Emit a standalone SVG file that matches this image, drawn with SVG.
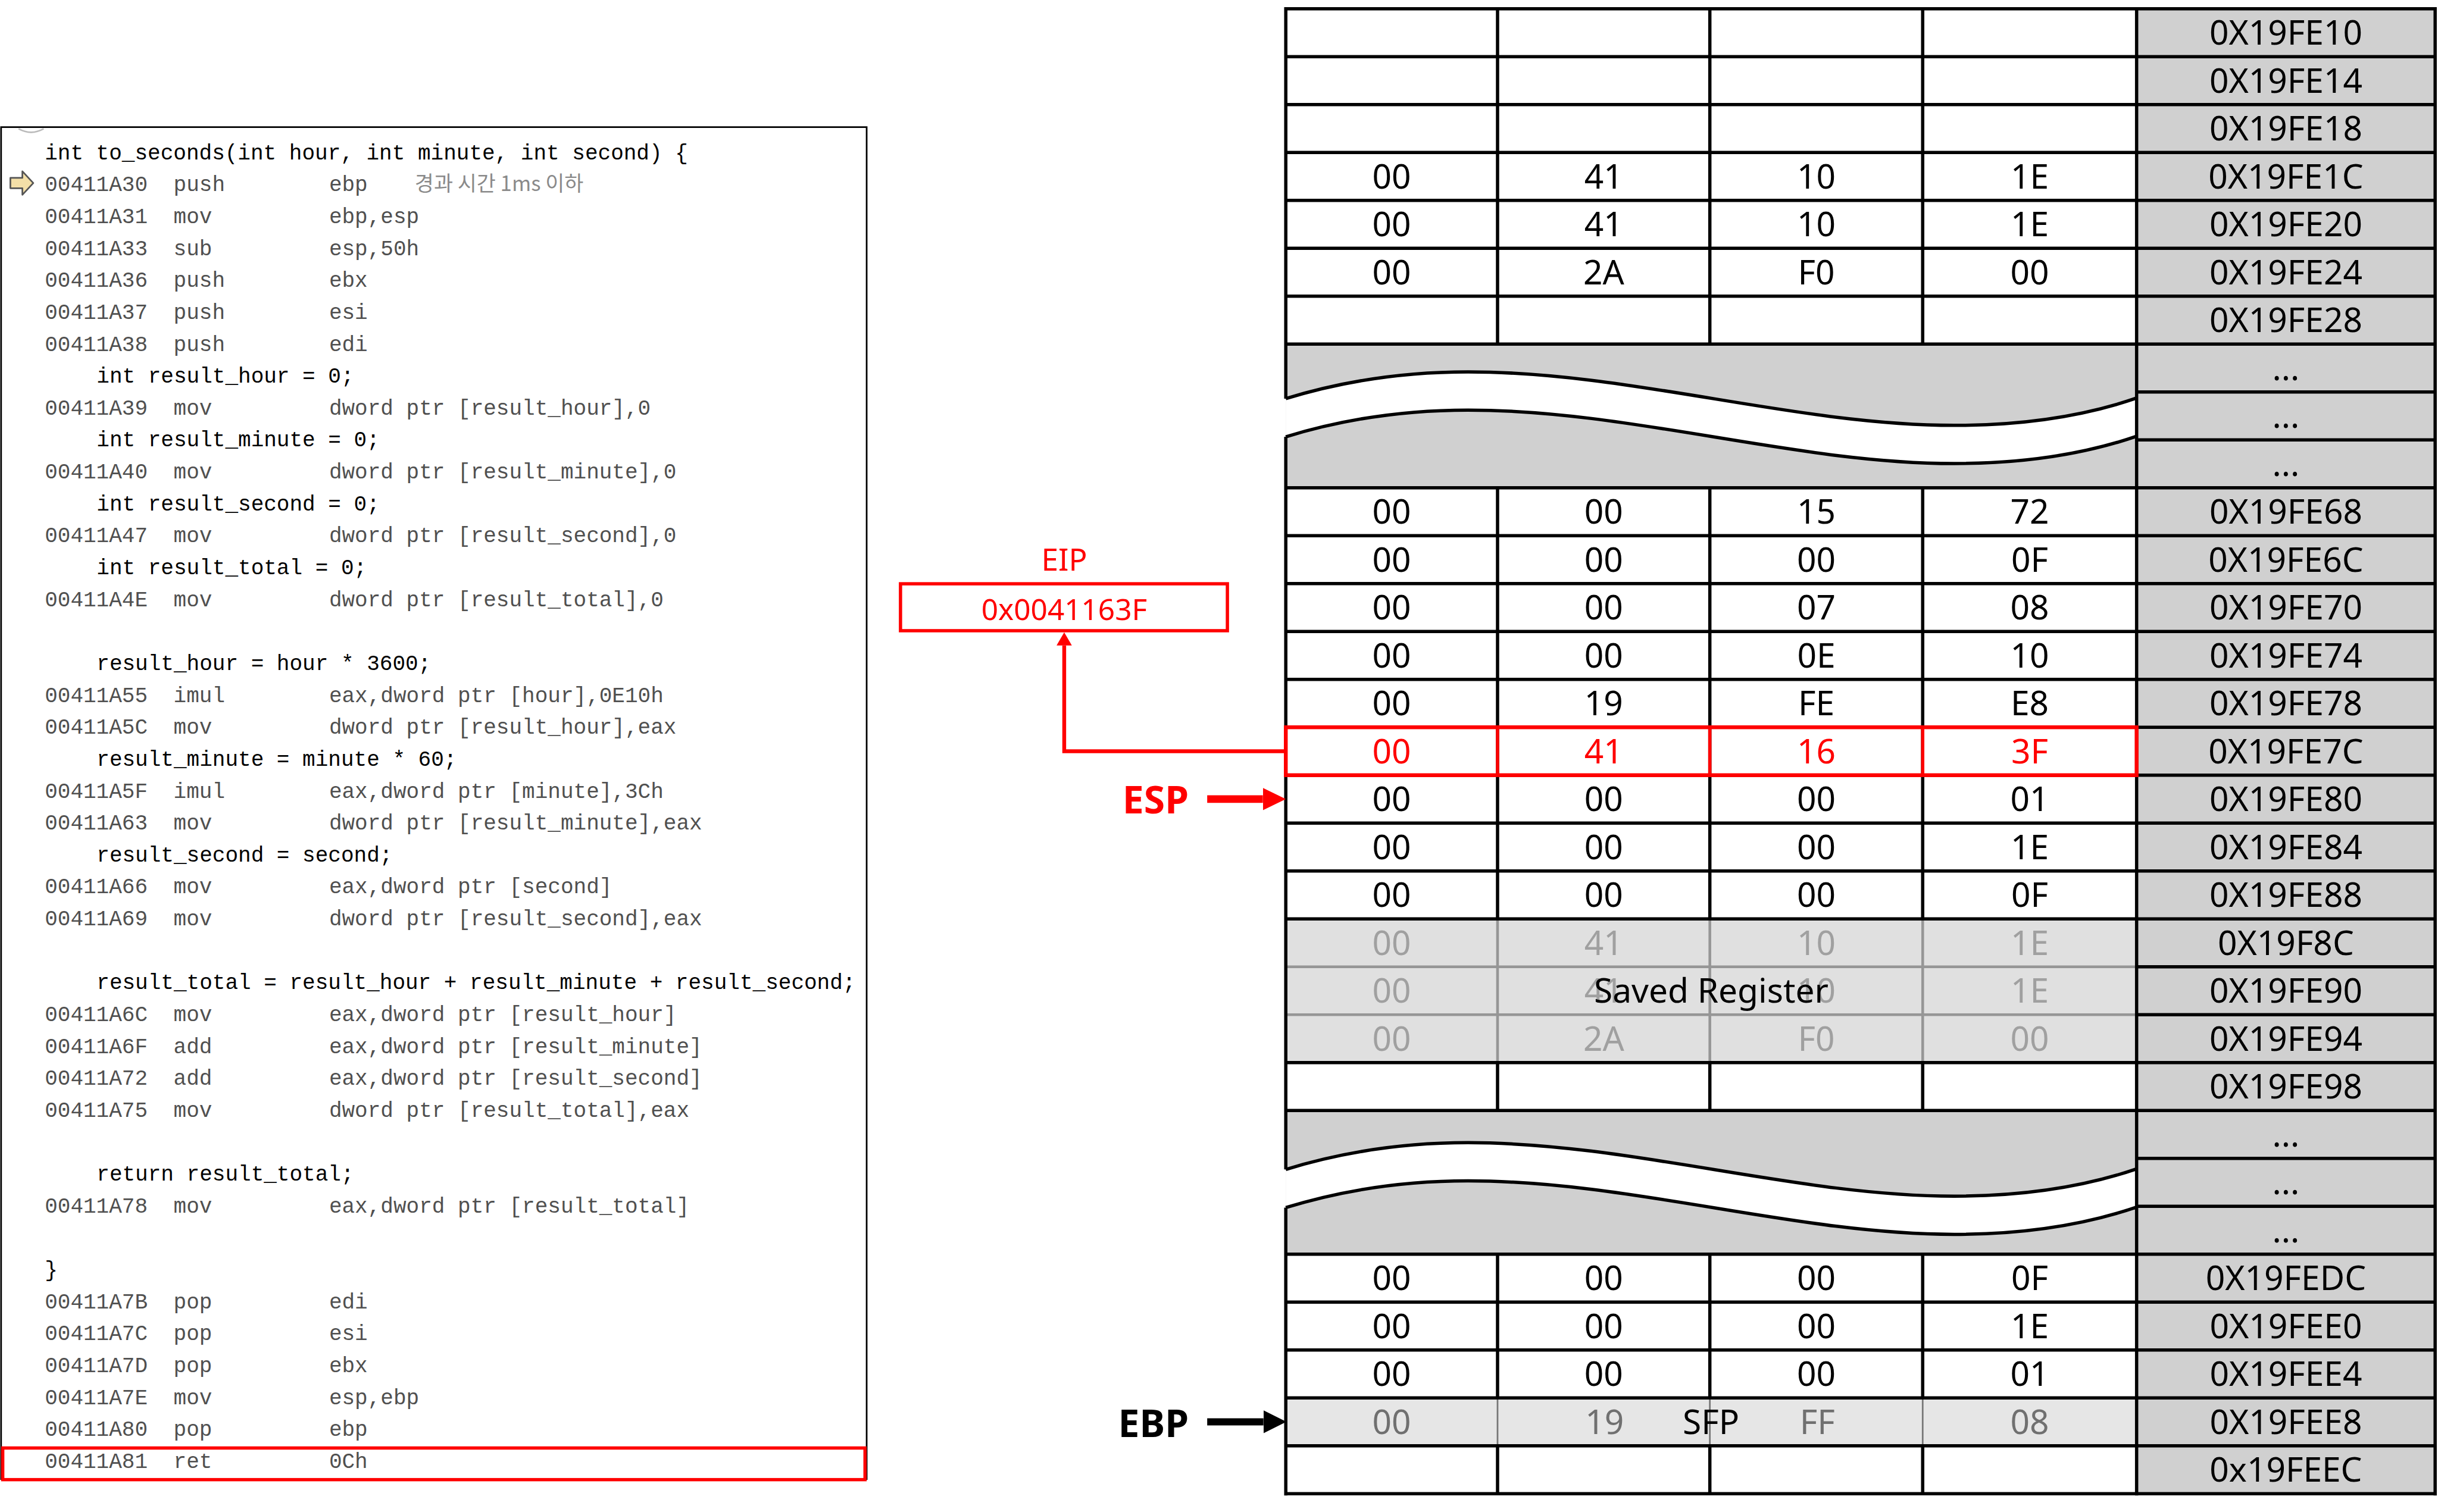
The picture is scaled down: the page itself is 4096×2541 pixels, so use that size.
<svg xmlns="http://www.w3.org/2000/svg" width="4096" height="2541" viewBox="0 0 4096 2541">
<defs>
<style>
.code{font-family:"Liberation Mono","DejaVu Sans Mono",monospace;font-size:39.3px}
.a{fill:#505050}
.s{fill:#000}
.kr{font-family:"Noto Sans CJK KR","Noto Sans",sans-serif;font-size:38px;fill:#8a8a8a}
.c{font-family:"Noto Sans","Open Sans",sans-serif;font-size:62px;fill:#000;text-anchor:middle}
.g{fill:#a0a0a0}
.sf{fill:#707070}
.rt{fill:#ff0000}
.grid{stroke:#000;stroke-width:6;fill:none}
.ggrid{stroke:#969696;stroke-width:5;fill:none}
.sgrid{stroke:#777;stroke-width:3;fill:none}
.wave{stroke:#000;stroke-width:6;fill:none}
.lbl{font-family:"Noto Sans","Open Sans",sans-serif;font-weight:bold;font-size:70px;text-anchor:end}
.eip{font-family:"Noto Sans","Open Sans",sans-serif;fill:#ff0000;text-anchor:middle}
</style>
<marker id="ahr" markerUnits="userSpaceOnUse" markerWidth="24" markerHeight="28" refX="0" refY="14" orient="auto" viewBox="0 0 24 28"><path d="M0,0 L24,14 L0,28 z" fill="#ff0000"/></marker>
<marker id="bigr" markerUnits="userSpaceOnUse" markerWidth="42" markerHeight="41" refX="0" refY="20.5" orient="auto" viewBox="0 0 42 41"><path d="M0,0 L42,20.5 L0,41 z" fill="#ff0000"/></marker>
<marker id="bigk" markerUnits="userSpaceOnUse" markerWidth="42" markerHeight="42" refX="0" refY="21" orient="auto" viewBox="0 0 42 42"><path d="M0,0 L42,21 L0,42 z" fill="#000"/></marker>
</defs>
<rect width="4096" height="2541" fill="#fff"/>
<g transform="scale(0.9169)">

<g id="code-panel">
<rect x="2" y="233" width="1586" height="2478" fill="#fff" stroke="#000" stroke-width="3"/>
<path d="M34,236 Q57,249 80,236" fill="none" stroke="#bbb" stroke-width="3"/>
<polygon points="19,326 41,326 41,314 61,335.5 41,357 41,345 19,345" fill="#f3dfa8" stroke="#555" stroke-width="3" stroke-linejoin="round"/>
<g class="code">
<text class="s" x="82" y="292">int to_seconds(int hour, int minute, int second) {</text>
<text class="a" y="350.5"><tspan x="82">00411A30</tspan><tspan x="318">push</tspan><tspan x="603">ebp</tspan></text>
<text class="kr" x="760" y="350.5">경과 시간 1ms 이하</text>
<text class="a" y="409"><tspan x="82">00411A31</tspan><tspan x="318">mov</tspan><tspan x="603">ebp,esp</tspan></text>
<text class="a" y="467.5"><tspan x="82">00411A33</tspan><tspan x="318">sub</tspan><tspan x="603">esp,50h</tspan></text>
<text class="a" y="526"><tspan x="82">00411A36</tspan><tspan x="318">push</tspan><tspan x="603">ebx</tspan></text>
<text class="a" y="584.5"><tspan x="82">00411A37</tspan><tspan x="318">push</tspan><tspan x="603">esi</tspan></text>
<text class="a" y="643"><tspan x="82">00411A38</tspan><tspan x="318">push</tspan><tspan x="603">edi</tspan></text>
<text class="s" x="177" y="701.5">int result_hour = 0;</text>
<text class="a" y="760"><tspan x="82">00411A39</tspan><tspan x="318">mov</tspan><tspan x="603">dword ptr [result_hour],0</tspan></text>
<text class="s" x="177" y="818.5">int result_minute = 0;</text>
<text class="a" y="877"><tspan x="82">00411A40</tspan><tspan x="318">mov</tspan><tspan x="603">dword ptr [result_minute],0</tspan></text>
<text class="s" x="177" y="935.5">int result_second = 0;</text>
<text class="a" y="994"><tspan x="82">00411A47</tspan><tspan x="318">mov</tspan><tspan x="603">dword ptr [result_second],0</tspan></text>
<text class="s" x="177" y="1052.5">int result_total = 0;</text>
<text class="a" y="1111"><tspan x="82">00411A4E</tspan><tspan x="318">mov</tspan><tspan x="603">dword ptr [result_total],0</tspan></text>
<text class="s" x="177" y="1228">result_hour = hour * 3600;</text>
<text class="a" y="1286.5"><tspan x="82">00411A55</tspan><tspan x="318">imul</tspan><tspan x="603">eax,dword ptr [hour],0E10h</tspan></text>
<text class="a" y="1345"><tspan x="82">00411A5C</tspan><tspan x="318">mov</tspan><tspan x="603">dword ptr [result_hour],eax</tspan></text>
<text class="s" x="177" y="1403.5">result_minute = minute * 60;</text>
<text class="a" y="1462"><tspan x="82">00411A5F</tspan><tspan x="318">imul</tspan><tspan x="603">eax,dword ptr [minute],3Ch</tspan></text>
<text class="a" y="1520.5"><tspan x="82">00411A63</tspan><tspan x="318">mov</tspan><tspan x="603">dword ptr [result_minute],eax</tspan></text>
<text class="s" x="177" y="1579">result_second = second;</text>
<text class="a" y="1637.5"><tspan x="82">00411A66</tspan><tspan x="318">mov</tspan><tspan x="603">eax,dword ptr [second]</tspan></text>
<text class="a" y="1696"><tspan x="82">00411A69</tspan><tspan x="318">mov</tspan><tspan x="603">dword ptr [result_second],eax</tspan></text>
<text class="s" x="177" y="1813">result_total = result_hour + result_minute + result_second;</text>
<text class="a" y="1871.5"><tspan x="82">00411A6C</tspan><tspan x="318">mov</tspan><tspan x="603">eax,dword ptr [result_hour]</tspan></text>
<text class="a" y="1930"><tspan x="82">00411A6F</tspan><tspan x="318">add</tspan><tspan x="603">eax,dword ptr [result_minute]</tspan></text>
<text class="a" y="1988.5"><tspan x="82">00411A72</tspan><tspan x="318">add</tspan><tspan x="603">eax,dword ptr [result_second]</tspan></text>
<text class="a" y="2047"><tspan x="82">00411A75</tspan><tspan x="318">mov</tspan><tspan x="603">dword ptr [result_total],eax</tspan></text>
<text class="s" x="177" y="2164">return result_total;</text>
<text class="a" y="2222.5"><tspan x="82">00411A78</tspan><tspan x="318">mov</tspan><tspan x="603">eax,dword ptr [result_total]</tspan></text>
<text class="s" x="82" y="2339.5">}</text>
<text class="a" y="2398"><tspan x="82">00411A7B</tspan><tspan x="318">pop</tspan><tspan x="603">edi</tspan></text>
<text class="a" y="2456.5"><tspan x="82">00411A7C</tspan><tspan x="318">pop</tspan><tspan x="603">esi</tspan></text>
<text class="a" y="2515"><tspan x="82">00411A7D</tspan><tspan x="318">pop</tspan><tspan x="603">ebx</tspan></text>
<text class="a" y="2573.5"><tspan x="82">00411A7E</tspan><tspan x="318">mov</tspan><tspan x="603">esp,ebp</tspan></text>
<text class="a" y="2632"><tspan x="82">00411A80</tspan><tspan x="318">pop</tspan><tspan x="603">ebp</tspan></text>
<text class="a" y="2690.5"><tspan x="82">00411A81</tspan><tspan x="318">ret</tspan><tspan x="603">0Ch</tspan></text>
</g>
<rect x="5" y="2654" width="1580" height="58" fill="none" stroke="#ff0000" stroke-width="6"/>
</g>

<g id="eip">
<text class="eip" x="1950" y="1046" font-size="56">EIP</text>
<rect x="1650" y="1070" width="599" height="86" fill="#fff" stroke="#ff0000" stroke-width="6"/>
<text class="eip" x="1950" y="1136" font-size="54">0x0041163F</text>
</g>

<g id="stack">
<rect x="3915" y="16" width="547" height="2721.8" fill="#d0d0d0"/>
<rect x="2356" y="1684.2" width="1559" height="263.4" fill="#e0e0e0"/>
<rect x="2356" y="2562.2" width="1559" height="87.8" fill="#e6e6e6"/>
<g id="break1">
<rect x="2356" y="630.6" width="1559" height="263.4" fill="#d0d0d0"/>
<path d="M2356,730.6 C2460,698.6 2570,681.6 2690,681.6 C2990,681.6 3290,779.6 3581,779.6 C3700,779.6 3810,765.6 3915,729.6 L3915,799.6 C3810,835.6 3700,849.6 3581,849.6 C3290,849.6 2990,751.6 2690,751.6 C2570,751.6 2460,768.6 2356,800.6 Z" fill="#fff"/>
<path class="wave" d="M2356,730.6 C2460,698.6 2570,681.6 2690,681.6 C2990,681.6 3290,779.6 3581,779.6 C3700,779.6 3810,765.6 3915,729.6"/>
<path class="wave" d="M2356,800.6 C2460,768.6 2570,751.6 2690,751.6 C2990,751.6 3290,849.6 3581,849.6 C3700,849.6 3810,835.6 3915,799.6"/>
</g>
<g id="break2">
<rect x="2356" y="2035.4" width="1559" height="263.4" fill="#d0d0d0"/>
<path d="M2356,2143.4 C2460,2111.4 2570,2094.4 2690,2094.4 C2990,2094.4 3290,2192.4 3581,2192.4 C3700,2192.4 3810,2178.4 3915,2142.4 L3915,2212.4 C3810,2248.4 3700,2262.4 3581,2262.4 C3290,2262.4 2990,2164.4 2690,2164.4 C2570,2164.4 2460,2181.4 2356,2213.4 Z" fill="#fff"/>
<path class="wave" d="M2356,2143.4 C2460,2111.4 2570,2094.4 2690,2094.4 C2990,2094.4 3290,2192.4 3581,2192.4 C3700,2192.4 3810,2178.4 3915,2142.4"/>
<path class="wave" d="M2356,2213.4 C2460,2181.4 2570,2164.4 2690,2164.4 C2990,2164.4 3290,2262.4 3581,2262.4 C3700,2262.4 3810,2248.4 3915,2212.4"/>
</g>
<path class="ggrid" d="M2744,1684.2V1947.6 M3133,1684.2V1947.6 M3523,1684.2V1947.6 M2356,1772H3915 M2356,1859.8H3915"/>
<path class="sgrid" d="M2744,2562.2V2650 M3133,2562.2V2650 M3523,2562.2V2650"/>
<path class="grid" d="M2356,13V730.6 M2356,800.6V2143.4 M2356,2213.4V2741 M3915,13V2741 M4462,13V2741
M2744,16V630.6 M2744,894V1684.2 M2744,1947.6V2035.4 M2744,2298.8V2562.2 M2744,2650V2737.8
M3133,16V630.6 M3133,894V1684.2 M3133,1947.6V2035.4 M3133,2298.8V2562.2 M3133,2650V2737.8
M3523,16V630.6 M3523,894V1684.2 M3523,1947.6V2035.4 M3523,2298.8V2562.2 M3523,2650V2737.8
M2353,16H4465 M2353,103.8H4465 M2353,191.6H4465 M2353,279.4H4465 M2353,367.2H4465 M2353,455H4465 M2353,542.8H4465 M2353,630.6H4465
M3915,718.4H4465 M3915,806.2H4465
M2353,894H4465 M2353,981.8H4465 M2353,1069.6H4465 M2353,1157.4H4465 M2353,1245.2H4465 M2353,1333H4465 M2353,1420.8H4465 M2353,1508.6H4465 M2353,1596.4H4465 M2353,1684.2H4465
M3915,1772H4465 M3915,1859.8H4465
M2353,1947.6H4465 M2353,2035.4H4465
M3915,2123.2H4465 M3915,2211H4465
M2353,2298.8H4465 M2353,2386.6H4465 M2353,2474.4H4465 M2353,2562.2H4465 M2353,2650H4465 M2353,2737.8H4465"/>
<rect x="2356" y="1333" width="1559" height="87.8" fill="none" stroke="#ff0000" stroke-width="7"/>
<path d="M2744,1333V1420.8 M3133,1333V1420.8 M3523,1333V1420.8" stroke="#ff0000" stroke-width="6"/>

<g class="c">
<text x="4188.5" y="81.9">0X19FE10</text>
<text x="4188.5" y="169.7">0X19FE14</text>
<text x="4188.5" y="257.5">0X19FE18</text>
<text y="345.3"><tspan x="2550">00</tspan><tspan x="2938.5">41</tspan><tspan x="3328">10</tspan><tspan x="3719">1E</tspan><tspan x="4188.5">0X19FE1C</tspan></text>
<text y="433.1"><tspan x="2550">00</tspan><tspan x="2938.5">41</tspan><tspan x="3328">10</tspan><tspan x="3719">1E</tspan><tspan x="4188.5">0X19FE20</tspan></text>
<text y="520.9"><tspan x="2550">00</tspan><tspan x="2938.5">2A</tspan><tspan x="3328">F0</tspan><tspan x="3719">00</tspan><tspan x="4188.5">0X19FE24</tspan></text>
<text x="4188.5" y="608.7">0X19FE28</text>
<text x="4188.5" y="696.5">...</text>
<text x="4188.5" y="784.3">...</text>
<text x="4188.5" y="872.1">...</text>
<text y="959.9"><tspan x="2550">00</tspan><tspan x="2938.5">00</tspan><tspan x="3328">15</tspan><tspan x="3719">72</tspan><tspan x="4188.5">0X19FE68</tspan></text>
<text y="1047.7"><tspan x="2550">00</tspan><tspan x="2938.5">00</tspan><tspan x="3328">00</tspan><tspan x="3719">0F</tspan><tspan x="4188.5">0X19FE6C</tspan></text>
<text y="1135.5"><tspan x="2550">00</tspan><tspan x="2938.5">00</tspan><tspan x="3328">07</tspan><tspan x="3719">08</tspan><tspan x="4188.5">0X19FE70</tspan></text>
<text y="1223.3"><tspan x="2550">00</tspan><tspan x="2938.5">00</tspan><tspan x="3328">0E</tspan><tspan x="3719">10</tspan><tspan x="4188.5">0X19FE74</tspan></text>
<text y="1311.1"><tspan x="2550">00</tspan><tspan x="2938.5">19</tspan><tspan x="3328">FE</tspan><tspan x="3719">E8</tspan><tspan x="4188.5">0X19FE78</tspan></text>
<text y="1398.9" class="rt"><tspan x="2550">00</tspan><tspan x="2938.5">41</tspan><tspan x="3328">16</tspan><tspan x="3719">3F</tspan></text>
<text x="4188.5" y="1398.9">0X19FE7C</text>
<text y="1486.7"><tspan x="2550">00</tspan><tspan x="2938.5">00</tspan><tspan x="3328">00</tspan><tspan x="3719">01</tspan><tspan x="4188.5">0X19FE80</tspan></text>
<text y="1574.5"><tspan x="2550">00</tspan><tspan x="2938.5">00</tspan><tspan x="3328">00</tspan><tspan x="3719">1E</tspan><tspan x="4188.5">0X19FE84</tspan></text>
<text y="1662.3"><tspan x="2550">00</tspan><tspan x="2938.5">00</tspan><tspan x="3328">00</tspan><tspan x="3719">0F</tspan><tspan x="4188.5">0X19FE88</tspan></text>
<text y="1750.1" class="g"><tspan x="2550">00</tspan><tspan x="2938.5">41</tspan><tspan x="3328">10</tspan><tspan x="3719">1E</tspan></text>
<text x="4188.5" y="1750.1">0X19F8C</text>
<text y="1837.9" class="g"><tspan x="2550">00</tspan><tspan x="2938.5">41</tspan><tspan x="3328">10</tspan><tspan x="3719">1E</tspan></text>
<text x="4188.5" y="1837.9">0X19FE90</text>
<text y="1925.7" class="g"><tspan x="2550">00</tspan><tspan x="2938.5">2A</tspan><tspan x="3328">F0</tspan><tspan x="3719">00</tspan></text>
<text x="4188.5" y="1925.7">0X19FE94</text>
<text x="3135.5" y="1837.9">Saved Register</text>
<text x="4188.5" y="2013.5">0X19FE98</text>
<text x="4188.5" y="2101.3">...</text>
<text x="4188.5" y="2189.1">...</text>
<text x="4188.5" y="2276.9">...</text>
<text y="2364.7"><tspan x="2550">00</tspan><tspan x="2938.5">00</tspan><tspan x="3328">00</tspan><tspan x="3719">0F</tspan><tspan x="4188.5">0X19FEDC</tspan></text>
<text y="2452.5"><tspan x="2550">00</tspan><tspan x="2938.5">00</tspan><tspan x="3328">00</tspan><tspan x="3719">1E</tspan><tspan x="4188.5">0X19FEE0</tspan></text>
<text y="2540.3"><tspan x="2550">00</tspan><tspan x="2938.5">00</tspan><tspan x="3328">00</tspan><tspan x="3719">01</tspan><tspan x="4188.5">0X19FEE4</tspan></text>
<text y="2628.1" class="sf"><tspan x="2550">00</tspan><tspan x="2940">19</tspan><tspan x="3330">FF</tspan><tspan x="3719">08</tspan></text>
<text x="3135" y="2628.1">SFP</text>
<text x="4188.5" y="2628.1">0X19FEE8</text>
<text x="4188.5" y="2715.9">0x19FEEC</text>
</g>
</g>

<g id="esp-label"><text class="lbl" x="2178" y="1491" fill="#ff0000">ESP</text></g>
<g id="ebp-label"><text class="lbl" x="2178" y="2634" fill="#000">EBP</text></g>

<g id="connectors">
<polyline points="2356,1377 1950,1377 1950,1183" fill="none" stroke="#ff0000" stroke-width="7" marker-end="url(#ahr)"/>
<line x1="2212" y1="1464.5" x2="2314" y2="1464.5" stroke="#ff0000" stroke-width="14" marker-end="url(#bigr)"/>
<line x1="2212" y1="2606" x2="2315" y2="2606" stroke="#000" stroke-width="13" marker-end="url(#bigk)"/>
</g>
</g>
</svg>
